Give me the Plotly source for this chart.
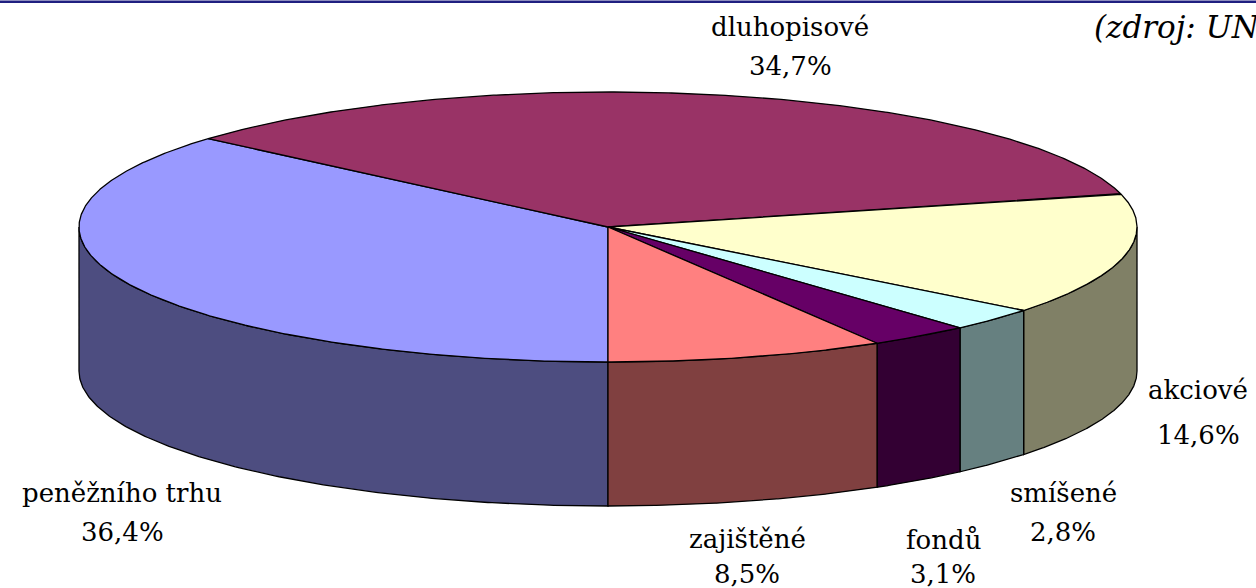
import numpy as np
import plotly.graph_objects as go

# ---- data ----
categories = ["peněžního trhu", "dluhopisové", "akciové", "smíšené", "fondů", "zajištěné"]
values = [36.4, 34.7, 14.6, 2.8, 3.1, 8.5]
top_colors = ["#9999FF", "#993366", "#FFFFCC", "#CCFFFF", "#660066", "#FF8080"]
side_colors = ["#4D4D80", "#4D1A33", "#808066", "#668080", "#330033", "#804040"]
source_text = "(zdroj: UNIS)"

# label placement (x centre, name line centre y, percent line centre y)
label_pos = {
    "peněžního trhu": (122, 493, 532),
    "dluhopisové": (790, 27, 66),
    "akciové": (1198, 390, 435),
    "smíšené": (1063, 493, 532),
    "fondů": (943, 540, 574),
    "zajištěné": (747, 539, 574),
}

# ---- pseudo 3D geometry (screen pixel axes) ----
W, H = 1256, 588
cx, cy = 608, 227
ra, rb = 529, 135
depth = 144


def pt(theta_deg, dy=0.0):
    t = np.radians(theta_deg)
    return cx + ra * np.cos(t), cy - rb * np.sin(t) + dy


total = sum(values)
fig = go.Figure()

# slice angular ranges: start at 6 o'clock, go clockwise
ranges = []
start = -90.0
for v in values:
    span = v / total * 360.0
    ranges.append((start - span, start))
    start -= span

# side faces (front half only: sin < 0)
for (lo, hi), col in zip(ranges, side_colors):
    for k in (-2, -1, 0, 1):
        flo, fhi = -180 + 360 * k, 0 + 360 * k
        a0, a1 = max(lo, flo), min(hi, fhi)
        if a1 - a0 <= 1e-6:
            continue
        th = np.linspace(a0, a1, 200)
        xs_t, ys_t = pt(th)
        xs_b, ys_b = pt(th[::-1], depth)
        xs = np.concatenate([xs_t, xs_b, xs_t[:1]])
        ys = np.concatenate([ys_t, ys_b, ys_t[:1]])
        fig.add_trace(go.Scatter(x=xs, y=ys, mode="lines", fill="toself",
                                 fillcolor=col, line=dict(color="black", width=1.3),
                                 hoverinfo="skip", showlegend=False))

# top faces
for (lo, hi), col in zip(ranges, top_colors):
    th = np.linspace(hi, lo, 400)
    xs, ys = pt(th)
    xs = np.concatenate([[cx], xs, [cx]])
    ys = np.concatenate([[cy], ys, [cy]])
    fig.add_trace(go.Scatter(x=xs, y=ys, mode="lines", fill="toself",
                             fillcolor=col, line=dict(color="black", width=1.3),
                             hoverinfo="skip", showlegend=False))

SERIF = "DejaVu Serif"
font = dict(family=SERIF, size=26, color="black")
annotations = []
for name, v in zip(categories, values):
    x, y1, y2 = label_pos[name]
    pct = f"{v:.1f}".replace(".", ",") + "%"
    annotations.append(dict(x=x, y=y1, xref="x", yref="y", text=name, showarrow=False,
                            font=font, xanchor="center", yanchor="middle"))
    annotations.append(dict(x=x, y=y2, xref="x", yref="y", text=pct, showarrow=False,
                            font=font, xanchor="center", yanchor="middle"))

annotations.append(dict(x=1092, y=27, xref="x", yref="y", text=source_text,
                        showarrow=False, xanchor="left", yanchor="middle",
                        font=dict(family=SERIF, size=31, color="black", style="italic")))

fig.update_layout(
    width=W, height=H,
    font=dict(family=SERIF),
    margin=dict(l=0, r=0, t=0, b=0),
    paper_bgcolor="white", plot_bgcolor="white",
    xaxis=dict(range=[0, W], visible=False, fixedrange=True),
    yaxis=dict(range=[H, 0], visible=False, fixedrange=True),
    annotations=annotations,
    shapes=[dict(type="line", xref="paper", yref="paper", x0=0, x1=1, y0=0.997, y1=0.997,
                 line=dict(color="#1F1F80", width=2.5))],
)

fig.write_html("out.html", config={"displayModeBar": False},
               post_script="document.body.style.margin='0';document.body.style.overflow='hidden';")
